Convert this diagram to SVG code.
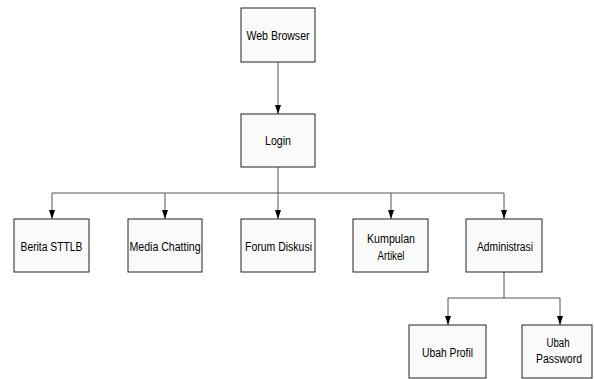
<svg xmlns="http://www.w3.org/2000/svg" width="594" height="379" viewBox="0 0 594 379">
<defs>
<style>
.box{fill:#fafafa;stroke:#222;stroke-width:1}
.t{font-family:"Liberation Sans",Arial,sans-serif;font-size:12.5px;fill:#000;text-anchor:middle}
.c{fill:none;stroke:#555;stroke-width:1}
</style>
</defs>
<rect width="594" height="379" fill="#fff"/>
<g id="connectors">
<path class="c" d="M278,62 V114"/>
<path d="M275,105 L281,105 L278,114 Z" fill="#000"/>
<path class="c" d="M278,167 V193 M52,193 H504 M52,193 V219 M165,193 V219 M278,193 V219 M391,193 V219 M504,193 V219"/>
<path d="M49,210 L55,210 L52,219 Z M162,210 L168,210 L165,219 Z M275,210 L281,210 L278,219 Z M388,210 L394,210 L391,219 Z M501,210 L507,210 L504,219 Z" fill="#000"/>
<path class="c" d="M504,272 V298 M448,298 H560 M448,298 V325 M560,298 V325"/>
<path d="M445,316 L451,316 L448,325 Z M557,316 L563,316 L560,325 Z" fill="#000"/>
</g>
<g id="web-browser"><rect class="box" x="241" y="8" width="74" height="54"/><text class="t" x="278" y="39.5" textLength="63" lengthAdjust="spacingAndGlyphs">Web Browser</text></g>
<g id="login"><rect class="box" x="241" y="114" width="74" height="53"/><text class="t" x="278" y="145" textLength="26" lengthAdjust="spacingAndGlyphs">Login</text></g>
<g id="berita"><rect class="box" x="14" y="219" width="75" height="53"/><text class="t" x="51.5" y="250.5" textLength="62" lengthAdjust="spacingAndGlyphs">Berita STTLB</text></g>
<g id="media"><rect class="box" x="128" y="219" width="74" height="53"/><text class="t" x="165" y="250.5" textLength="71" lengthAdjust="spacingAndGlyphs">Media Chatting</text></g>
<g id="forum"><rect class="box" x="241" y="219" width="74" height="53"/><text class="t" x="278.5" y="250.5" textLength="67" lengthAdjust="spacingAndGlyphs">Forum Diskusi</text></g>
<g id="kumpulan"><rect class="box" x="353" y="219" width="75" height="53"/><text class="t" x="391" y="243" textLength="48" lengthAdjust="spacingAndGlyphs">Kumpulan</text><text class="t" x="391" y="259.5" textLength="27" lengthAdjust="spacingAndGlyphs">Artikel</text></g>
<g id="administrasi"><rect class="box" x="466" y="219" width="76" height="53"/><text class="t" x="505" y="250.5" textLength="56" lengthAdjust="spacingAndGlyphs">Administrasi</text></g>
<g id="ubah-profil"><rect class="box" x="409" y="325" width="77" height="53"/><text class="t" x="447.5" y="356.5" textLength="51" lengthAdjust="spacingAndGlyphs">Ubah Profil</text></g>
<g id="ubah-password"><rect class="box" x="522" y="325" width="70" height="53"/><text class="t" x="558" y="347" textLength="23" lengthAdjust="spacingAndGlyphs">Ubah</text><text class="t" x="559" y="363" textLength="46" lengthAdjust="spacingAndGlyphs">Password</text></g>
</svg>
